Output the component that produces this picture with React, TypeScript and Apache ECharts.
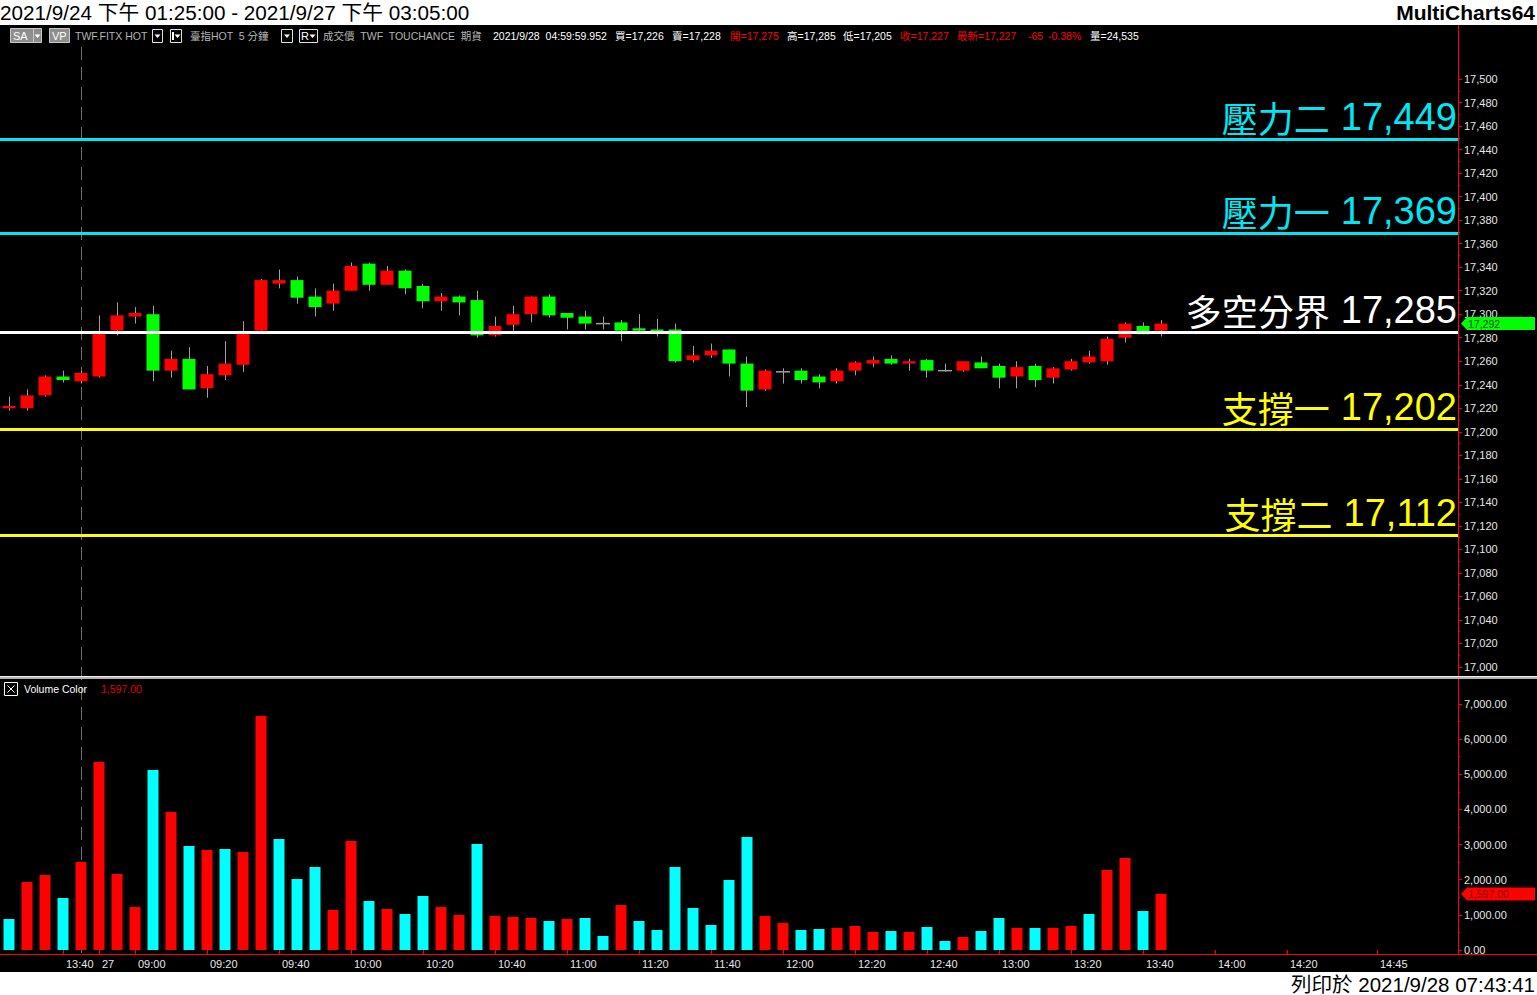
import React, { useEffect, useRef } from 'react';
import * as echarts from 'echarts';

// ---- 5-minute bars, TWF.FITX (臺指HOT), 2021/9/24 13:25 – 2021/9/27 13:45 ----
const opens = [
  17220, 17220, 17231, 17247, 17243, 17247, 17286, 17298, 17300, 17252,
  17262, 17237, 17248, 17257, 17286, 17326, 17329, 17315, 17309, 17320,
  17343, 17325, 17337, 17324, 17311, 17315, 17312, 17282, 17291, 17300,
  17315, 17301, 17298, 17292, 17293, 17288, 17287, 17287, 17261, 17265,
  17270, 17258, 17236, 17251, 17252, 17247, 17243, 17252, 17258, 17262,
  17258, 17261, 17252, 17252, 17259, 17256, 17247, 17256, 17246, 17253,
  17259, 17260, 17280, 17290, 17286,
];
const closes = [
  17222, 17231, 17247, 17244, 17250, 17285, 17299, 17301, 17252, 17262,
  17236, 17249, 17258, 17285, 17329, 17329, 17314, 17306, 17320, 17341,
  17325, 17337, 17322, 17311, 17315, 17310, 17282, 17290, 17300, 17315,
  17299, 17297, 17292, 17292, 17286, 17286, 17286, 17260, 17265, 17269,
  17258, 17235, 17252, 17251, 17244, 17242, 17252, 17259, 17261, 17258,
  17260, 17252, 17252, 17260, 17254, 17246, 17255, 17244, 17254, 17260,
  17264, 17279, 17292, 17283, 17292,
];
const lows = [
  17218, 17218, 17230, 17242, 17241, 17246, 17282, 17292, 17243, 17246,
  17236, 17229, 17244, 17251, 17285, 17322, 17309, 17298, 17303, 17320,
  17320, 17325, 17317, 17305, 17303, 17299, 17280, 17281, 17286, 17293,
  17297, 17287, 17287, 17287, 17277, 17285, 17281, 17259, 17259, 17263,
  17247, 17221, 17235, 17241, 17241, 17237, 17241, 17248, 17255, 17257,
  17252, 17246, 17251, 17251, 17254, 17237, 17237, 17238, 17241, 17252,
  17258, 17257, 17276, 17283, 17281,
];
const highs = [
  17230, 17236, 17248, 17252, 17252, 17299, 17310, 17306, 17307, 17269,
  17272, 17256, 17277, 17294, 17330, 17338, 17332, 17322, 17326, 17344,
  17344, 17341, 17338, 17326, 17318, 17316, 17320, 17298, 17307, 17315,
  17317, 17301, 17303, 17298, 17295, 17300, 17296, 17292, 17273, 17275,
  17270, 17264, 17253, 17254, 17254, 17249, 17254, 17260, 17264, 17265,
  17262, 17262, 17258, 17260, 17264, 17258, 17260, 17258, 17255, 17262,
  17269, 17281, 17293, 17293, 17295,
];

// Volume per bar and its colour flag (1 = red, 0 = cyan)
const volumes = [
  882, 1935, 2134, 1480, 2504, 5350, 2163, 1224, 5122, 3927,
  2960, 2846, 2874, 2789, 6659, 3159, 2020, 2362, 1138, 3102,
  1394, 1167, 1024, 1537, 1224, 996, 3016, 968, 939, 911,
  825, 882, 911, 398, 1281, 825, 569, 2362, 1195, 711,
  1992, 3216, 968, 768, 569, 598, 626, 683, 512, 541,
  512, 655, 256, 370, 541, 911, 626, 626, 626, 683,
  1024, 2277, 2618, 1110, 1597,
];
const volumeUp = [
  0, 1, 1, 0, 1, 1, 1, 1, 0, 1,
  0, 1, 0, 1, 1, 0, 0, 0, 1, 1,
  0, 1, 0, 0, 1, 1, 0, 1, 1, 1,
  0, 1, 0, 0, 1, 0, 0, 0, 0, 0,
  0, 0, 1, 1, 0, 0, 1, 1, 1, 0,
  1, 0, 0, 1, 0, 0, 1, 0, 1, 1,
  0, 1, 1, 0, 1,
];

// Support / resistance levels
const levelNames = ['壓力二', '壓力一', '多空分界', '支撐一', '支撐二'];
const levelValues = [17449, 17369, 17285, 17202, 17112];

// Time slots: tail of 9/24 day session, then 9/27 from 08:50 to 15:05
const prevDayTimes = ['13:25', '13:30', '13:35', '13:40', '13:45'];
const pad2 = (n: number) => (n < 10 ? '0' + n : '' + n);
const dayTimes: string[] = [];
for (let m = 8 * 60 + 50; m <= 15 * 60 + 5; m += 5) dayTimes.push(pad2(Math.floor(m / 60)) + ':' + pad2(m % 60));
const categories = [
  ...prevDayTimes.map((t) => '9/24 ' + t),
  ...dayTimes.map((t) => '9/27 ' + t),
];
const labeledSlots = [
  '9/24 13:40', '9/27 08:50', '9/27 09:00', '9/27 09:20', '9/27 09:40', '9/27 10:00',
  '9/27 10:20', '9/27 10:40', '9/27 11:00', '9/27 11:20', '9/27 11:40', '9/27 12:00',
  '9/27 12:20', '9/27 12:40', '9/27 13:00', '9/27 13:20', '9/27 13:40', '9/27 14:00',
  '9/27 14:20', '9/27 14:45',
];
const dayStartSlot = '9/27 08:50';
const sessionBreakSlot = '9/24 13:45';

// ---- styles ----
const UP = '#FF0000';
const DOWN = '#00FF00';
const WICK = '#A0A0A0';
const VOL_UP = '#FF0000';
const VOL_DOWN = '#00FFFF';
const AXIS_RED = '#FF0000';
const levelColors = ['#00E6F2', '#00E6F2', '#FFFFFF', '#FFFF00', '#FFFF00'];
const UI_FONT = '"Liberation Sans", Arial, "Noto Sans CJK TC", sans-serif';
const CJK_FONT = '"Noto Sans CJK TC", "Liberation Sans", sans-serif';

const fmtInt = (v: number) => v.toLocaleString('en-US');
const fmt2 = (v: number) => v.toLocaleString('en-US', { minimumFractionDigits: 2, maximumFractionDigits: 2 });

const labelSet = new Set(labeledSlots);
const showSlot = (_i: number, v: string) => labelSet.has(v);

function txt(text: string, x: number, y: number, fill: string, size = 11, extra: any = {}, z = 60) {
  return {
    type: 'text',
    x,
    y,
    z,
    silent: true,
    style: {
      text,
      fill,
      fontSize: size,
      fontFamily: UI_FONT,
      verticalAlign: 'middle',
      align: 'left',
      ...extra,
    },
  };
}

function tri(x: number, y: number, color = '#FFFFFF') {
  return {
    type: 'polygon',
    z: 61,
    silent: true,
    shape: { points: [[x - 3, y - 1.5], [x + 3, y - 1.5], [x, y + 2]] },
    style: { fill: color },
  };
}

function box(x: number, y: number, w: number, h: number, fill: string, stroke: string) {
  return {
    type: 'rect',
    z: 60,
    silent: true,
    shape: { x: x + 0.5, y: y + 0.5, width: w, height: h },
    style: { fill, stroke, lineWidth: 1 },
  };
}

function buildStaticGraphics(): any[] {
  const g: any[] = [];
  // page strips
  g.push({ type: 'rect', z: 50, silent: true, shape: { x: 0, y: 0, width: 1537, height: 25 }, style: { fill: '#FFFFFF' } });
  g.push({ type: 'rect', z: 50, silent: true, shape: { x: 0, y: 972, width: 1537, height: 23 }, style: { fill: '#FFFFFF' } });
  g.push(txt('2021/9/24 下午 01:25:00 - 2021/9/27 下午 03:05:00', 0, 12.5, '#000000', 20.7));
  g.push(txt('MultiCharts64', 1535, 12.5, '#000000', 21, { align: 'right', fontWeight: 'bold' }));
  g.push(txt('列印於 2021/9/28 07:43:41', 1535, 984.5, '#000000', 20.5, { align: 'right' }));

  // axis frame lines
  g.push({ type: 'line', z: 40, silent: true, shape: { x1: 1458.5, y1: 25, x2: 1458.5, y2: 955 }, style: { stroke: AXIS_RED, lineWidth: 1 } });
  g.push({ type: 'line', z: 40, silent: true, shape: { x1: 0, y1: 954.5, x2: 1537, y2: 954.5 }, style: { stroke: AXIS_RED, lineWidth: 1 } });
  // pane separator
  g.push({ type: 'rect', z: 45, silent: true, shape: { x: 0, y: 676, width: 1537, height: 3 }, style: { fill: '#B4B4B4' } });
  g.push({ type: 'line', z: 46, silent: true, shape: { x1: 0, y1: 676.5, x2: 1537, y2: 676.5 }, style: { stroke: '#F0F0F0', lineWidth: 1 } });

  // instrument header row
  const yc = 36;
  g.push(box(10, 28, 23, 14, '#8E8E8E', '#C8C8C8'));
  g.push(txt('SA', 13, yc, '#FFFFFF', 11));
  g.push(box(33, 28, 8, 14, '#8E8E8E', '#C8C8C8'));
  g.push(tri(37.5, yc));
  g.push(box(49, 28, 20, 14, '#8E8E8E', '#C8C8C8'));
  g.push(txt('VP', 52, yc, '#FFFFFF', 11));
  g.push(txt('TWF.FITX HOT', 75, yc, '#B4B4B4', 10.5));
  g.push(box(152, 29, 10, 13, '#000000', '#E0E0E0'));
  g.push(tri(157.5, yc));
  g.push(box(170, 29, 11, 13, '#000000', '#E0E0E0'));
  g.push({ type: 'rect', z: 61, silent: true, shape: { x: 172, y: 32, width: 2, height: 8 }, style: { fill: '#FFFFFF' } });
  g.push(tri(177.5, yc));
  g.push(txt('臺指HOT  5 分鐘', 190, yc, '#B4B4B4', 10.5));
  g.push(box(281, 29, 11, 13, '#000000', '#E0E0E0'));
  g.push(tri(287, yc));
  g.push(box(299, 29, 18, 13, '#000000', '#E0E0E0'));
  g.push(txt('R', 301, yc, '#FFFFFF', 11));
  g.push(tri(312.5, yc));
  g.push(txt('成交價  TWF  TOUCHANCE  期貨', 323, yc, '#B4B4B4', 10.5));
  g.push(txt('2021/9/28  04:59:59.952', 493, yc, '#FFFFFF', 10.5));
  g.push(txt('買=17,226', 615, yc, '#FFFFFF', 10.5));
  g.push(txt('賣=17,228', 672, yc, '#FFFFFF', 10.5));
  g.push(txt('開=17,275', 730, yc, '#FF0000', 10.5));
  g.push(txt('高=17,285', 787, yc, '#FFFFFF', 10.5));
  g.push(txt('低=17,205', 843, yc, '#FFFFFF', 10.5));
  g.push(txt('收=17,227', 900, yc, '#FF0000', 10.5));
  g.push(txt('最新=17,227', 957, yc, '#FF0000', 10.5));
  g.push(txt('-65', 1028, yc, '#FF0000', 10.5));
  g.push(txt('-0.38%', 1048, yc, '#FF0000', 10.5));
  g.push(txt('量=24,535', 1090, yc, '#FFFFFF', 10.5));

  // volume pane header
  g.push(box(4, 682, 13, 13, '#000000', '#FFFFFF'));
  g.push({ type: 'line', z: 61, silent: true, shape: { x1: 7.5, y1: 685.5, x2: 14.5, y2: 692.5 }, style: { stroke: '#FFFFFF', lineWidth: 1 } });
  g.push({ type: 'line', z: 61, silent: true, shape: { x1: 14.5, y1: 685.5, x2: 7.5, y2: 692.5 }, style: { stroke: '#FFFFFF', lineWidth: 1 } });
  g.push(txt('Volume Color', 24, 689, '#FFFFFF', 10.5));
  g.push(txt(fmt2(volumes[volumes.length - 1]), 101, 689, '#E00000', 10.5));
  return g;
}

function priceTag(y: number, text: string, bg: string, fg: string): any[] {
  return [
    {
      type: 'polygon',
      z: 62,
      silent: true,
      shape: { points: [[1461, y], [1467, y - 6.5], [1535, y - 6.5], [1535, y + 6.5], [1467, y + 6.5]] },
      style: { fill: bg },
    },
    txt(text, 1468, y + 0.5, fg, 10.5, {}, 64),
  ];
}

export default function App() {
  const ref = useRef<HTMLDivElement>(null);

  useEffect(() => {
    if (!ref.current) return;
    const chart = echarts.init(ref.current, undefined, { renderer: 'svg' });

    const candleData = opens.map((o, i) => [i, o, closes[i], lows[i], highs[i]]);
    const volumeData = volumes.map((v, i) => ({
      value: v,
      itemStyle: { color: volumeUp[i] ? VOL_UP : VOL_DOWN },
    }));

    const staticGraphics = buildStaticGraphics();

    const option: any = {
      animation: false,
      backgroundColor: '#000000',
      grid: [
        { left: 0, right: 79, top: 79, height: 588, outerBoundsMode: 'none' },
        { left: 0, right: 79, top: 704, height: 246, outerBoundsMode: 'none' },
      ],
      xAxis: [
        {
          type: 'category',
          gridIndex: 0,
          data: categories,
          boundaryGap: true,
          show: false,
        },
        {
          type: 'category',
          gridIndex: 1,
          data: categories,
          boundaryGap: true,
          offset: 4,
          axisLine: { show: false },
          axisTick: {
            show: true,
            alignWithLabel: true,
            interval: showSlot,
            length: 4,
            lineStyle: { color: AXIS_RED },
          },
          axisLabel: {
            show: true,
            interval: showSlot,
            align: 'left',
            padding: [0, 0, 0, 3],
            margin: 4,
            color: '#E6E6E6',
            fontSize: 11,
            fontFamily: UI_FONT,
            formatter: (v: string) => (v === dayStartSlot ? '27' : v.slice(-5)),
          },
          splitLine: { show: false },
        },
      ],
      yAxis: [
        {
          type: 'value',
          gridIndex: 0,
          position: 'right',
          min: 17000,
          max: 17500,
          interval: 20,
          axisLine: { show: false },
          axisTick: { show: true, length: 4, lineStyle: { color: AXIS_RED } },
          minorTick: { show: true, splitNumber: 2, length: 2, lineStyle: { color: AXIS_RED } },
          splitLine: { show: false },
          minorSplitLine: { show: false },
          axisLabel: {
            color: '#E6E6E6',
            fontSize: 11,
            fontFamily: UI_FONT,
            margin: 6,
            formatter: (v: number) => fmtInt(v),
          },
        },
        {
          type: 'value',
          gridIndex: 1,
          position: 'right',
          min: 0,
          max: 7000,
          interval: 1000,
          axisLine: { show: false },
          axisTick: { show: true, length: 4, lineStyle: { color: AXIS_RED } },
          minorTick: { show: true, splitNumber: 2, length: 2, lineStyle: { color: AXIS_RED } },
          splitLine: { show: false },
          minorSplitLine: { show: false },
          axisLabel: {
            color: '#E6E6E6',
            fontSize: 11,
            fontFamily: UI_FONT,
            margin: 6,
            formatter: (v: number) => fmt2(v),
          },
        },
      ],
      series: [
        {
          name: '臺指HOT',
          type: 'custom',
          xAxisIndex: 0,
          yAxisIndex: 0,
          z: 2,
          encode: { x: 0, y: [1, 2, 3, 4] },
          data: candleData,
          renderItem: (_params: any, api: any) => {
            const idx = api.value(0);
            const o = api.value(1);
            const c = api.value(2);
            const lo = api.value(3);
            const hi = api.value(4);
            const pO = api.coord([idx, o]);
            const cx = pO[0];
            const yO = pO[1];
            const yC = api.coord([idx, c])[1];
            const yL = api.coord([idx, lo])[1];
            const yH = api.coord([idx, hi])[1];
            const wx = Math.floor(cx) + 0.5;
            const children: any[] = [
              { type: 'line', shape: { x1: wx, y1: yH, x2: wx, y2: yL }, style: { stroke: WICK, lineWidth: 1 } },
            ];
            if (o === c) {
              children.push({
                type: 'line',
                shape: { x1: cx - 7, y1: yO, x2: cx + 7, y2: yO },
                style: { stroke: WICK, lineWidth: 1.5 },
              });
            } else {
              const top = Math.min(yO, yC);
              const h = Math.max(Math.abs(yO - yC), 1.5);
              children.push({
                type: 'rect',
                shape: { x: cx - 6.5, y: top, width: 13, height: h },
                style: { fill: c > o ? UP : DOWN },
              });
            }
            return { type: 'group', children };
          },
        },
        {
          name: 'levels',
          type: 'line',
          xAxisIndex: 0,
          yAxisIndex: 0,
          z: 3,
          data: [],
          silent: true,
          markLine: {
            silent: true,
            symbol: ['none', 'none'],
            data: levelValues.map((v, i) => ({
              yAxis: v,
              lineStyle: { color: levelColors[i], width: 3, type: 'solid' },
              label: {
                show: true,
                position: 'insideEndTop',
                distance: [1, 2],
                color: levelColors[i],
                formatter: `{n|${levelNames[i]}}{s| }{v|${fmtInt(v)}}`,
                rich: {
                  n: { color: levelColors[i], fontFamily: CJK_FONT, fontSize: 36, lineHeight: 40 },
                  s: { width: 11, fontSize: 36, lineHeight: 40 },
                  v: { color: levelColors[i], fontFamily: UI_FONT, fontSize: 38, lineHeight: 40 },
                },
              },
            })),
          },
        },
        {
          name: 'Volume Color',
          type: 'bar',
          xAxisIndex: 1,
          yAxisIndex: 1,
          barWidth: 11,
          data: volumeData,
        },
      ],
      graphic: { elements: staticGraphics },
    };

    chart.setOption(option);

    // overlays positioned through the chart's own scales
    const breakX = chart.convertToPixel({ xAxisIndex: 0 } as any, sessionBreakSlot) as number;
    const lastClose = closes[closes.length - 1];
    const lastVol = volumes[volumes.length - 1];
    const closeY = chart.convertToPixel({ yAxisIndex: 0 } as any, lastClose) as number;
    const volY = chart.convertToPixel({ yAxisIndex: 1 } as any, lastVol) as number;
    const bx = Math.floor(breakX) + 0.5;

    const dynamic: any[] = [
      {
        type: 'line',
        z: 1,
        silent: true,
        shape: { x1: bx, y1: 47, x2: bx, y2: 953 },
        style: { stroke: '#6E6E6E', lineWidth: 1, lineDash: [13, 7] },
      },
      ...priceTag(closeY, fmtInt(lastClose), DOWN, '#004A00'),
      ...priceTag(volY, fmt2(lastVol), VOL_UP, '#8A0000'),
    ];

    chart.setOption({ graphic: { elements: [...staticGraphics, ...dynamic] } });

    return () => {
      chart.dispose();
    };
  }, []);

  return (
    <div
      ref={ref}
      style={{ position: 'fixed', left: 0, top: 0, width: 1537, height: 995, background: '#000' }}
    />
  );
}
